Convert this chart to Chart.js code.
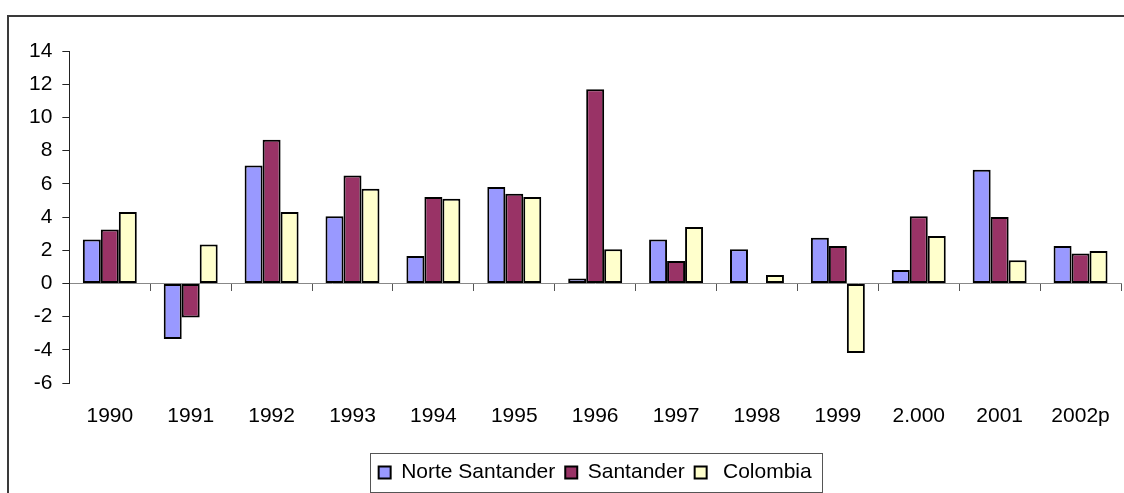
<!DOCTYPE html>
<html>
<head>
<meta charset="utf-8">
<script src="https://cdn.jsdelivr.net/npm/chart.js@4.4.0/dist/chart.umd.min.js"></script>
<style>
    html, body { margin: 0; padding: 0; background: #fff; overflow: hidden; }
    #frame {
        position: absolute; left: 7px; top: 15px; width: 1300px; height: 700px;
        border-top: 2px solid #3a3a3a; border-left: 2px solid #3a3a3a;
    }
    #myChart { position: absolute; left: 0; top: 0; }
</style>
</head>
<body>
<div id="frame"></div>
<canvas id="myChart" width="1124" height="493"></canvas>
<script>
// data
const years = ['1990', '1991', '1992', '1993', '1994', '1995', '1996', '1997', '1998', '1999', '2.000', '2001', '2002p'];
const norteSantander = [2.65, -3.35, 7.1, 4.05, 1.65, 5.8, 0.3, 2.65, 2.05, 2.75, 0.8, 6.85, 2.25];
const santander = [3.25, -2.05, 8.65, 6.5, 5.2, 5.4, 11.7, 1.35, null, 2.25, 4.05, 4.0, 1.8];
const colombia = [4.3, 2.35, 4.3, 5.7, 5.1, 5.2, 2.05, 3.4, 0.5, -4.2, 2.85, 1.4, 1.95];
const yTicks = [-6, -4, -2, 0, 2, 4, 6, 8, 10, 12, 14];

Chart.defaults.font.family = '"Liberation Sans", Arial, sans-serif';
Chart.defaults.font.size = 21;
Chart.defaults.color = '#000';

// box round the legend, like the original
const legendBox = {
    id: 'legendBox',
    afterDraw(chart) {
        const hb = chart.legend.legendHitBoxes;
        if (!hb || !hb.length) return;
        const first = hb[0];
        const last = hb[hb.length - 1];
        const ctx = chart.ctx;
        ctx.save();
        ctx.strokeStyle = '#555';
        ctx.lineWidth = 1;
        const left = Math.round(first.left - 9) + 0.5;
        const right = Math.round(last.left + last.width + 10) + 0.5;
        const top = Math.round(first.top - 9) + 0.5;
        const bottom = Math.round(first.top + first.height + 9) + 0.5;
        ctx.strokeRect(left, top, right - left, bottom - top);
        ctx.restore();
    }
};

const ctx = document.getElementById('myChart').getContext('2d');
new Chart(ctx, {
    type: 'bar',
    data: {
        labels: years,
        datasets: [{
            label: 'Norte Santander',
            data: norteSantander,
            backgroundColor: '#9999FF',
            borderColor: '#000',
            borderWidth: 2,
            borderSkipped: false,
            xAxisID: 'x'
        }, {
            label: 'Santander',
            data: santander,
            backgroundColor: '#993366',
            borderColor: '#000',
            borderWidth: 2,
            borderSkipped: false,
            xAxisID: 'x'
        }, {
            label: ' Colombia',
            data: colombia,
            backgroundColor: '#FFFFCC',
            borderColor: '#000',
            borderWidth: 2,
            borderSkipped: false,
            xAxisID: 'x'
        }]
    },
    options: {
        responsive: false,
        animation: false,
        categoryPercentage: 0.667,
        barPercentage: 1.0,
        layout: {
            padding: { left: 19, right: 3, top: 51, bottom: 0 }
        },
        plugins: {
            tooltip: { enabled: false },
            legend: {
                position: 'bottom',
                fullSize: false,
                labels: {
                    boxWidth: 12,
                    boxHeight: 12,
                    padding: 10,
                    font: { size: 21 }
                }
            }
        },
        scales: {
            x: {
                type: 'category',
                position: 'bottom',
                grid: { display: false },
                border: { display: false },
                ticks: { padding: 13, maxRotation: 0, autoSkip: false },
                afterFit: function (scale) { scale.height = 69; }
            },
            x0: {
                type: 'category',
                position: { y: 0 },
                offset: true,
                grid: { offset: true, drawOnChartArea: false, drawTicks: true, tickLength: 7, color: '#555', lineWidth: 1 },
                border: { display: true, color: '#888', width: 1 },
                ticks: { display: false }
            },
            y: {
                min: -6,
                max: 14,
                afterBuildTicks: function (scale) {
                    scale.ticks = yTicks.map(function (v) { return { value: v }; });
                },
                grid: { drawOnChartArea: false, drawTicks: true, tickLength: 7, color: '#222' },
                border: { display: true, color: '#222', width: 1 },
                ticks: { padding: 10 }
            }
        }
    },
    plugins: [legendBox]
});
</script>
</body>
</html>
